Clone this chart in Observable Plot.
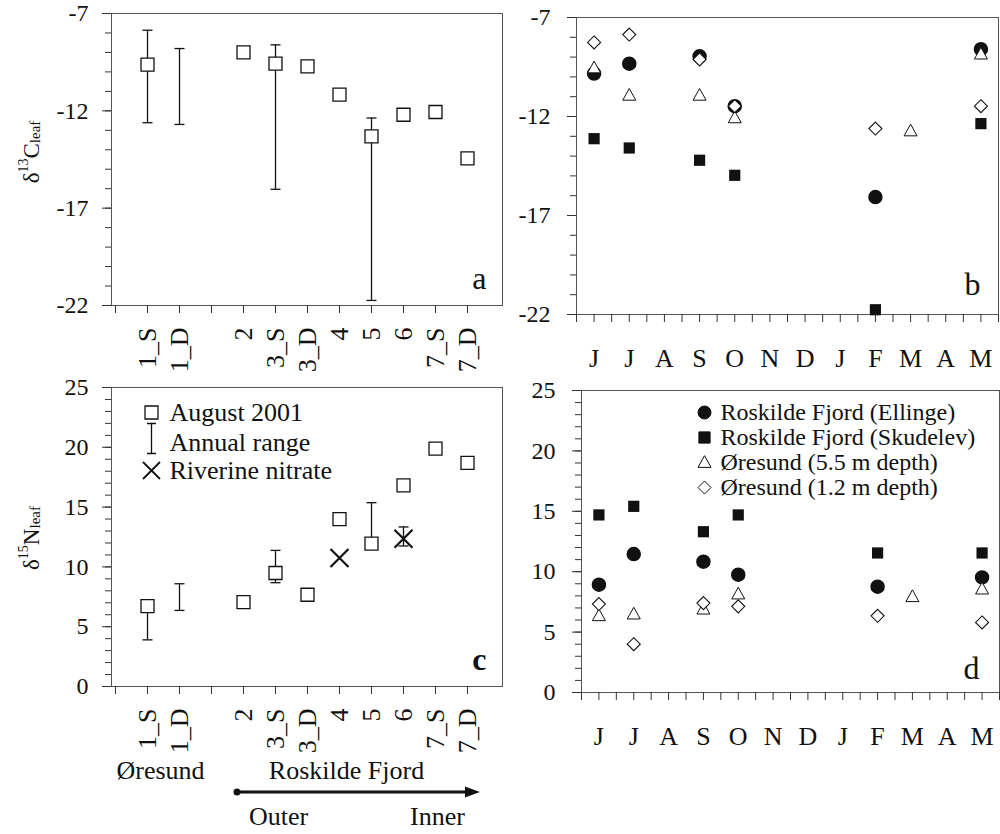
<!DOCTYPE html>
<html><head><meta charset="utf-8">
<script src="https://cdn.jsdelivr.net/npm/d3@7"></script>
<script src="https://cdn.jsdelivr.net/npm/@observablehq/plot@0.6"></script>
<style>
body{margin:0;background:#fff;}
#fig{position:relative;width:1000px;height:834px;overflow:hidden;font-family:"Liberation Serif","Times New Roman",serif;color:#111;}
.ylab{position:absolute;transform:translate(-50%,-50%) rotate(-90deg);white-space:nowrap;font-size:23px;line-height:1;}
.ylab .sup{font-size:14px;vertical-align:11px;}
.ylab .sub{font-size:15px;vertical-align:-1px;}
</style></head><body><div id="fig"></div>
<script>
// ---------- DATA ----------
const slots = ["L","1_S","1_D","gap","2","3_S","3_D","4","5","6","7_S","7_D","R"];
const sites = ["1_S","1_D","2","3_S","3_D","4","5","6","7_S","7_D"];
// panel a: d13C, August 2001
const aug2001C = [-9.63, null, -9.0, -9.57, -9.72, -11.17, -13.31, -12.2, -12.06, -14.44];
const rangeSitesC = ["1_S","1_D","3_S","5"];
const rangeLoC = [-12.61, -12.70, -16.03, -21.74];
const rangeHiC = [-7.86, -8.80, -8.61, -12.37];
// panel c: d15N, August 2001
const aug2001N = [6.72, null, 7.06, 9.49, 7.67, 14.0, 11.94, 16.82, 19.89, 18.69];
const rangeSitesN = ["1_S","1_D","3_S","5","6"];
const rangeLoN = [3.9, 6.36, 8.68, 11.94, 11.75];
const rangeHiN = [6.9, 8.59, 11.38, 15.37, 13.34];
const riverineSites = ["4","6"];
const riverineN = [10.74, 12.36];
// panels b, d: seasonal
const monthOrder = ["Jun","Jul","Aug","Sep","Oct","Nov","Dec","Jan","Feb","Mar","Apr","May"];
const monthLabels = ["J","J","A","S","O","N","D","J","F","M","A","M"];
const monthsA = ["Jun","Jul","Sep","Oct","Feb","May"];   // Ellinge, Skudelev, Øresund 1.2 m
const monthsB = ["Jun","Jul","Sep","Oct","Mar","May"];   // Øresund 5.5 m
const ellingeC  = [-9.83, -9.33, -8.96, -11.48, -16.07, -8.6];
const skudelevC = [-13.12, -13.59, -14.21, -14.97, -21.76, -12.36];
const oe55C     = [-9.55, -10.93, -10.93, -12.07, -12.73, -8.85];
const oe12C     = [-8.26, -7.86, -9.12, -11.48, -12.61, -11.48];
const ellingeN  = [8.92, 11.46, 10.83, 9.75, 8.76, 9.53];
const skudelevN = [14.7, 15.41, 13.31, 14.7, 11.55, 11.55];
const oe55N     = [6.35, 6.49, 6.9, 8.15, 7.93, 8.56];
const oe12N     = [7.32, 4.0, 7.4, 7.13, 6.35, 5.8];
const legendC = ["August 2001","Annual range","Riverine nitrate"];
const legendD = ["Roskilde Fjord (Ellinge)","Roskilde Fjord (Skudelev)","Øresund (5.5 m depth)","Øresund (1.2 m depth)"];
const regionLabels = ["Øresund","Roskilde Fjord"];
const directionLabels = ["Outer","Inner"];

// ---------- SYMBOLS ----------
const rOf = s => Math.sqrt(s / Math.PI);
const sqSym = {draw(c, s){const r = rOf(s); c.rect(-r, -r, 2*r, 2*r);}};
const triSym = {draw(c, s){const r = rOf(s); c.moveTo(0, -r*1.05); c.lineTo(r, r*0.75); c.lineTo(-r, r*0.75); c.closePath();}};
const diaSym = {draw(c, s){const r = rOf(s); c.moveTo(0, -r); c.lineTo(r, 0); c.lineTo(0, r); c.lineTo(-r, 0); c.closePath();}};
const capSym = {draw(c, s){const r = rOf(s); c.moveTo(-r, 0); c.lineTo(r, 0);}};
const xSym = {draw(c, s){const r = rOf(s); c.moveTo(-r, -r); c.lineTo(r, r); c.moveTo(-r, r); c.lineTo(r, -r);}};
const iSym = {draw(c, s){const r = rOf(s); const w = r*0.3; c.moveTo(0, -r); c.lineTo(0, r); c.moveTo(-w, -r); c.lineTo(w, -r); c.moveTo(-w, r); c.lineTo(w, r);}};

const FONT = '"Liberation Serif","Times New Roman",serif';
const INK = "#111";
const fmt = d => String(d);   // plain hyphen-minus as in the original
const fig = document.getElementById("fig");
function place(el, left, top){ el.style.position = "absolute"; el.style.left = left + "px"; el.style.top = top + "px"; fig.appendChild(el); return el; }
const baseStyle = {fontFamily: FONT, fontSize: "24px", color: INK, background: "transparent", overflow: "visible"};

// ---------- SITE PANELS (a, c) ----------
function sitePanel({aug, rSites, rLo, rHi, yDomain, yMajor, letter, bold, height, marginTop, marginBottom, extra}) {
  const augData = sites.map((s, i) => ({site: s, v: aug[i]})).filter(d => d.v != null);
  const rData = rSites.map((s, i) => ({site: s, lo: rLo[i], hi: rHi[i]}));
  return Plot.plot({
    width: 512, height, marginLeft: 111, marginRight: 10, marginTop, marginBottom,
    style: baseStyle,
    x: {type: "point", domain: slots, padding: 0},
    y: {domain: yDomain},
    marks: [
      Plot.frame({stroke: "#555"}),
      Plot.axisY({ticks: d3.range(yDomain[0], yDomain[1] + 1, 1), tickSize: 6, tickFormat: () => "", label: null, stroke: "#333"}),
      Plot.axisY({ticks: yMajor, tickSize: 9, tickPadding: 14, tickFormat: fmt, fontSize: 24, label: null, stroke: "#333"}),
      Plot.axisX({ticks: slots.slice(0, 12), tickSize: 8, tickPadding: 14, tickRotate: -90,
        tickFormat: d => sites.includes(d) ? d : "", fontSize: 26, label: null, stroke: "#333"}),
      Plot.ruleX(rData, {x: "site", y1: "lo", y2: "hi", stroke: INK, strokeWidth: 1.3}),
      Plot.dot(rData, {x: "site", y: "lo", symbol: capSym, r: 5, stroke: INK, strokeWidth: 1.3}),
      Plot.dot(rData, {x: "site", y: "hi", symbol: capSym, r: 5, stroke: INK, strokeWidth: 1.3}),
      ...(extra || []),
      Plot.dot(augData, {x: "site", y: "v", symbol: sqSym, r: 6.5, stroke: INK, fill: "white", strokeWidth: 1.3}),
      Plot.text([letter], {text: d => d, frameAnchor: "bottom-right", dx: -16, dy: -17, textAnchor: "end", lineAnchor: "bottom", fontSize: 32, fontWeight: bold ? "bold" : "normal"})
    ]
  });
}

const chartA = sitePanel({aug: aug2001C, rSites: rangeSitesC, rLo: rangeLoC, rHi: rangeHiC,
  yDomain: [-22, -7], yMajor: [-22, -17, -12, -7], letter: "a", bold: false, height: 380, marginTop: 13, marginBottom: 75});
place(chartA, 0, 0);

const rivData = riverineSites.map((s, i) => ({site: s, v: riverineN[i]}));
const legCsym = [sqSym, iSym, xSym];
const legCsymDy = [25, 51, 83];
const legCtxtDy = [25, 55, 83];
const legCr = [6.5, 15, 8.5];
const legendCMarks = legendC.flatMap((t, i) => [
  Plot.dot([t], {frameAnchor: "top-left", dx: 40, dy: legCsymDy[i], symbol: legCsym[i], r: legCr[i], stroke: INK, fill: i === 0 ? "white" : "none", strokeWidth: i === 2 ? 1.8 : 1.3}),
  Plot.text([t], {text: d => d, frameAnchor: "top-left", dx: 58, dy: legCtxtDy[i], textAnchor: "start", lineAnchor: "middle", fontSize: 26})
]);
const chartC = sitePanel({aug: aug2001N, rSites: rangeSitesN, rLo: rangeLoN, rHi: rangeHiN,
  yDomain: [0, 25], yMajor: [0, 5, 10, 15, 20, 25], letter: "c", bold: true, height: 454, marginTop: 7, marginBottom: 148,
  extra: [
    Plot.dot(rivData, {x: "site", y: "v", symbol: xSym, r: 9, stroke: INK, strokeWidth: 2.2}),
    ...legendCMarks,
    Plot.text([regionLabels[0]], {text: d => d, x: () => "1_S", frameAnchor: "bottom", dx: 13, dy: 92, lineAnchor: "bottom", fontSize: 26}),
    Plot.text([regionLabels[1]], {text: d => d, x: () => "4", frameAnchor: "bottom", dx: 7, dy: 92, lineAnchor: "bottom", fontSize: 26}),
    Plot.text([directionLabels[0]], {text: d => d, x: () => "3_S", frameAnchor: "bottom", dx: 3, dy: 138, lineAnchor: "bottom", fontSize: 26}),
    Plot.text([directionLabels[1]], {text: d => d, x: () => "7_S", frameAnchor: "bottom", dx: 2, dy: 138, lineAnchor: "bottom", fontSize: 26})
  ]});
place(chartC, 0, 380);
// direction arrow (Outer -> Inner) along the Roskilde Fjord sites
{
  const sx = chartC.scale("x");
  const y = 7 + 299 + 106;
  const x0 = sx.apply("2") - 6, x1 = sx.apply("7_D") + 13;
  const g = d3.select(chartC).append("g").attr("fill", INK).attr("stroke", INK);
  g.append("line").attr("x1", x0).attr("x2", x1 - 10).attr("y1", y).attr("y2", y).attr("stroke-width", 3);
  g.append("circle").attr("cx", x0).attr("cy", y).attr("r", 3.5).attr("stroke", "none");
  g.append("path").attr("d", `M${x1},${y}L${x1 - 15},${y - 5.5}L${x1 - 15},${y + 5.5}Z`).attr("stroke", "none");
}

// ---------- SEASONAL PANELS (b, d) ----------
const mx = m => monthOrder.indexOf(m) + 0.5;
const toRows = (months, vals) => months.map((m, i) => ({m, v: vals[i]}));
function seasonPanel({ell, sku, o55, o12, yDomain, yMajor, letter, letterDx, letterDy, height, marginLeft, marginRight, marginTop, marginBottom, tickPadding, legend}) {
  return Plot.plot({
    width: 500, height, marginLeft, marginRight, marginTop, marginBottom,
    style: baseStyle,
    x: {domain: [0, 12]},
    y: {domain: yDomain},
    marks: [
      Plot.frame({stroke: "#555"}),
      Plot.axisY({ticks: d3.range(yDomain[0], yDomain[1] + 1, 1), tickSize: 6, tickFormat: () => "", label: null, stroke: "#333"}),
      Plot.axisY({ticks: yMajor, tickSize: 9, tickPadding, tickFormat: fmt, fontSize: 24, label: null, stroke: "#333"}),
      Plot.axisX({ticks: d3.range(0, 12.01, 0.5), tickSize: 8, tickFormat: () => "", label: null, stroke: "#333"}),
      Plot.axisX({ticks: monthOrder.map((m, i) => i + 0.5), tickSize: 0, tickPadding: 34, tickFormat: d => monthLabels[Math.floor(d)], fontSize: 26, label: null}),
      Plot.dot(toRows(monthsA, ell), {x: d => mx(d.m), y: "v", r: 6.5, fill: INK, stroke: INK}),
      Plot.dot(toRows(monthsA, sku), {x: d => mx(d.m), y: "v", symbol: sqSym, r: 5.6, fill: INK}),
      Plot.dot(toRows(monthsB, o55), {x: d => mx(d.m), y: "v", symbol: triSym, r: 6.5, fill: "white", stroke: INK, strokeWidth: 1}),
      Plot.dot(toRows(monthsA, o12), {x: d => mx(d.m), y: "v", symbol: diaSym, r: 6.5, fill: "white", stroke: INK, strokeWidth: 1.1}),
      ...(legend || []),
      Plot.text([letter], {text: d => d, frameAnchor: "bottom-right", dx: letterDx, dy: letterDy, textAnchor: "end", lineAnchor: "bottom", fontSize: 32})
    ]
  });
}

const chartB = seasonPanel({ell: ellingeC, sku: skudelevC, o55: oe55C, o12: oe12C, yDomain: [-22, -7], yMajor: [-22, -17, -12, -7],
  letter: "b", letterDx: -18, letterDy: -20, height: 380, marginLeft: 76, marginRight: 2, marginTop: 17, marginBottom: 66, tickPadding: 17});
place(chartB, 500, 0);

const legDsym = [null, sqSym, triSym, diaSym];
const legDr = [6.5, 5.6, 6.5, 6.5];
const legDfill = [INK, INK, "white", "white"];
const legendDMarks = legendD.flatMap((t, i) => [
  Plot.dot([t], {frameAnchor: "top-left", dx: 123, dy: 22 + 25 * i, ...(legDsym[i] ? {symbol: legDsym[i]} : {}), r: legDr[i], fill: legDfill[i], stroke: INK, strokeWidth: 1}),
  Plot.text([t], {text: d => d, frameAnchor: "top-left", dx: 139, dy: 22 + 25 * i, textAnchor: "start", lineAnchor: "middle", fontSize: 24})
]);
const chartD = seasonPanel({ell: ellingeN, sku: skudelevN, o55: oe55N, o12: oe12N, yDomain: [0, 25], yMajor: [0, 5, 10, 15, 20, 25],
  letter: "d", letterDx: -20, letterDy: -14, height: 454, marginLeft: 81, marginRight: 1, marginTop: 10, marginBottom: 142, tickPadding: 17, legend: legendDMarks});
place(chartD, 500, 380);

// ---------- Y AXIS TITLES ----------
function ylab(html, x, y){ const d = document.createElement("div"); d.className = "ylab"; d.innerHTML = html; d.style.left = x + "px"; d.style.top = y + "px"; fig.appendChild(d); }
ylab('δ<span class="sup">13</span>C<span class="sub">leaf</span>', 30, 152);
ylab('δ<span class="sup">15</span>N<span class="sub">leaf</span>', 30, 538);
</script></body></html>
